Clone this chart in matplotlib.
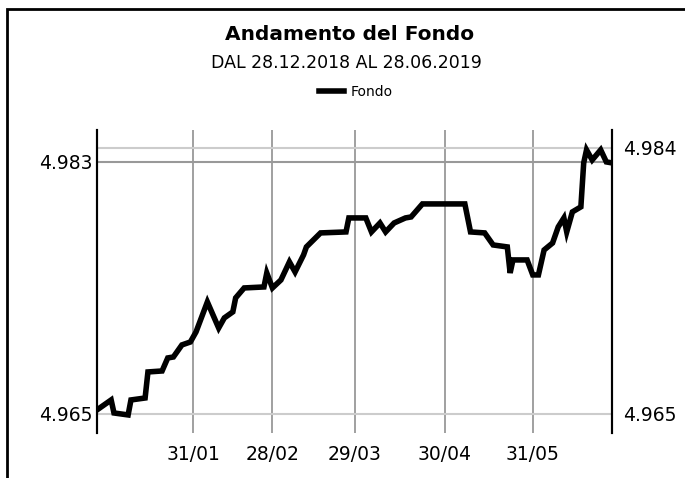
import matplotlib
matplotlib.use('Agg')
import matplotlib.pyplot as plt
from matplotlib.patches import Rectangle
import pandas as pd

# dati
dates = ['2018-12-28', '2019-01-02', '2019-01-03', '2019-01-08', '2019-01-09', '2019-01-14',
         '2019-01-15', '2019-01-20', '2019-01-22', '2019-01-24', '2019-01-27', '2019-01-30',
         '2019-02-01', '2019-02-03', '2019-02-05', '2019-02-07', '2019-02-09', '2019-02-11',
         '2019-02-14', '2019-02-15', '2019-02-18', '2019-02-25', '2019-02-26', '2019-02-28',
         '2019-03-03', '2019-03-06', '2019-03-08', '2019-03-11', '2019-03-12', '2019-03-17',
         '2019-03-26', '2019-03-27', '2019-04-02', '2019-04-04', '2019-04-07', '2019-04-09',
         '2019-04-12', '2019-04-16', '2019-04-18', '2019-04-22', '2019-05-07', '2019-05-09',
         '2019-05-14', '2019-05-17', '2019-05-22', '2019-05-23', '2019-05-24', '2019-05-29',
         '2019-05-31', '2019-06-02', '2019-06-04', '2019-06-07', '2019-06-09', '2019-06-11',
         '2019-06-12', '2019-06-14', '2019-06-17', '2019-06-18', '2019-06-19', '2019-06-21',
         '2019-06-24', '2019-06-26', '2019-06-28']
fondo = [4.96529, 4.96600, 4.96507, 4.96493, 4.96600, 4.96614,
         4.96800, 4.96807, 4.96900, 4.96907, 4.96993, 4.97014,
         4.97086, 4.97193, 4.97300, 4.97207, 4.97114, 4.97186,
         4.97229, 4.97329, 4.97400, 4.97407, 4.97507, 4.97400,
         4.97457, 4.97586, 4.97514, 4.97636, 4.97693, 4.97793,
         4.97800, 4.97900, 4.97900, 4.97800, 4.97864, 4.97800,
         4.97864, 4.97900, 4.97907, 4.98000, 4.98000, 4.97800,
         4.97793, 4.97707, 4.97693, 4.97507, 4.97600, 4.97600,
         4.97493, 4.97493, 4.97671, 4.97721, 4.97836, 4.97900,
         4.97800, 4.97943, 4.97979, 4.98293, 4.98386, 4.98314,
         4.98386, 4.98300, 4.98293]

x_ticks = ['2019-01-31', '2019-02-28', '2019-03-29', '2019-04-30', '2019-05-31']
x_labels = ['31/01', '28/02', '29/03', '30/04', '31/05']
left_ticks = [4.965, 4.983]
right_ticks = [4.965, 4.984]

plt.rcParams['font.family'] = ['DejaVu Sans']

fig = plt.figure(figsize=(6.85, 4.78), dpi=100)
ax = fig.add_axes([97 / 685, 1 - 433 / 478, 515 / 685, 303 / 478])

x = pd.to_datetime(dates)
ax.plot(x, fondo, color='black', linewidth=4, solid_joinstyle='miter', label='Fondo', zorder=5)

ax.set_xlim(pd.Timestamp('2018-12-28'), pd.Timestamp('2019-06-28'))
ax.set_ylim(4.96364, 4.98528)

xt = pd.to_datetime(x_ticks)
for t in xt:
    ax.axvline(t, color='#999999', linewidth=1.3, zorder=1)
ax.axhline(4.965, color='#cccccc', linewidth=1.5, zorder=1)
ax.axhline(4.983, color='#999999', linewidth=1.5, zorder=1)
ax.axhline(4.984, color='#cccccc', linewidth=1.5, zorder=1)

ax.set_xticks(xt)
ax.set_xticklabels(x_labels)
ax.tick_params(axis='x', length=0, pad=9, labelsize=13.5)
ax.set_yticks(left_ticks)
ax.set_yticklabels(['%.3f' % v for v in left_ticks])
ax.tick_params(axis='y', length=0, pad=3, labelsize=13.5)

ax2 = ax.twinx()
ax2.set_ylim(ax.get_ylim())
ax2.set_yticks(right_ticks)
ax2.set_yticklabels(['%.3f' % v for v in right_ticks])
ax2.tick_params(axis='y', length=0, pad=8, labelsize=13.5)

for a in (ax, ax2):
    a.spines['top'].set_visible(False)
    a.spines['bottom'].set_visible(False)
    a.spines['left'].set_linewidth(1.5)
    a.spines['right'].set_linewidth(1.5)

fig.text(350 / 685, 1 - 34 / 478, 'Andamento del Fondo', ha='center', va='center',
         fontsize=14.5, fontweight='bold')
fig.text(346 / 685, 1 - 63 / 478, 'DAL 28.12.2018 AL 28.06.2019', ha='center', va='center',
         fontsize=12.5)
fig.legend(loc='center', bbox_to_anchor=(356 / 685, 1 - 92 / 478), frameon=False,
           fontsize=10, handlelength=1.8, handletextpad=0.5)

fig.patches.append(Rectangle((7 / 685, -0.1), 1.2, 1.1 - 9 / 478, transform=fig.transFigure,
                             fill=False, edgecolor='black', linewidth=2))

fig.savefig('out.png', dpi=100)
